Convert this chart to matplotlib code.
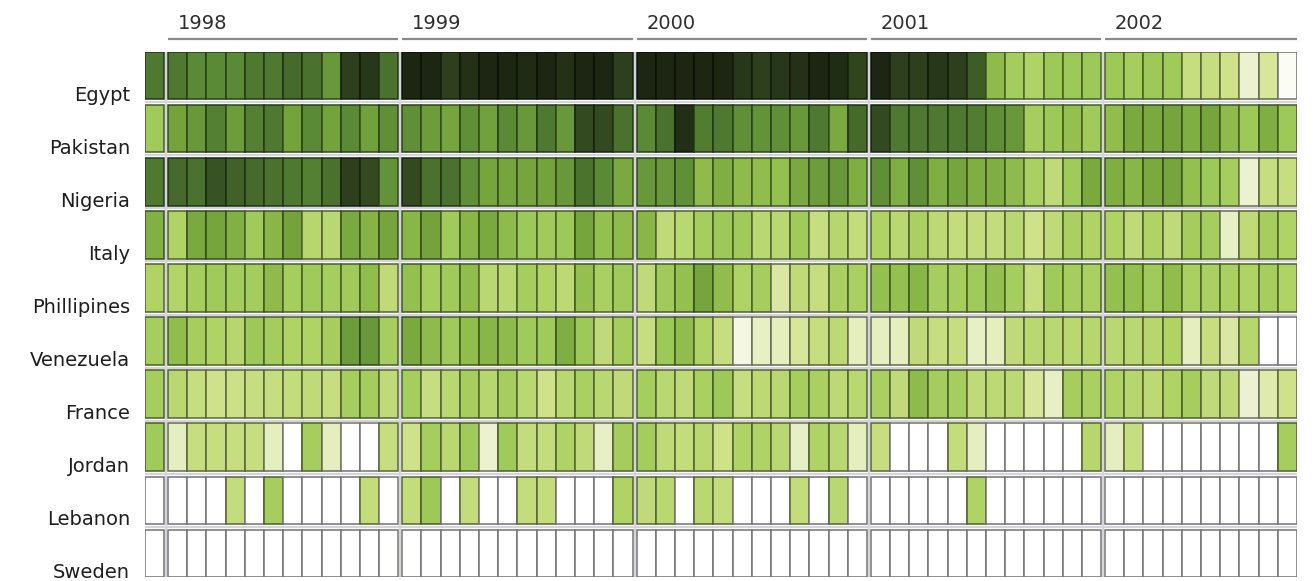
import matplotlib
matplotlib.use("Agg")
import matplotlib.pyplot as plt
import numpy as np
from matplotlib.colors import LinearSegmentedColormap, Normalize, to_rgb

countries = ["Egypt", "Pakistan", "Nigeria", "Italy", "Phillipines",
             "Venezuela", "France", "Jordan", "Lebanon", "Sweden"]
years = ["1998", "1999", "2000", "2001", "2002"]
months_per_year = [12, 12, 12, 12, 10]

# overall (first column) intensity per country, 0 = none ... 10 = highest
summary = [7, 4, 7, 5, 3.5, 3.8, 3.8, 4, 0, 0]

y1998 = [
    [7, 6.5, 6.5, 6.5, 7, 7, 7.5, 7.3, 6, 9, 9.3, 7.3],
    [5.5, 6, 6.8, 5.8, 6.8, 7, 5.5, 6.5, 5.5, 6.5, 5.6, 6.3],
    [7.5, 7.3, 8.3, 7.8, 7.5, 7.3, 7, 6.8, 7.3, 9, 8.6, 6.2],
    [3.5, 5.3, 5.4, 5, 4, 4.8, 5.5, 3.3, 3.2, 5.3, 4.9, 5.4],
    [3.4, 3.8, 4, 3.9, 3.9, 4.6, 3.8, 4, 3.8, 4, 4.5, 3],
    [4.5, 3.8, 3.5, 3.3, 4.1, 3.9, 3.5, 3.5, 3.8, 5.8, 6, 3.8],
    [3.2, 2.8, 2.5, 2.6, 2.8, 2.8, 2.9, 3, 2.8, 3.8, 3.9, 3],
    [1.4, 2.8, 2.8, 2.8, 2.8, 1.4, 0, 3.8, 1.4, 0, 0, 2.8],
    [0, 0, 0, 2.9, 0, 3.8, 0, 0, 0, 0, 2.9, 0],
    [0, 0, 0, 0, 0, 0, 0, 0, 0, 0, 0, 0],
]
y1999 = [
    [10, 10, 9, 9.5, 10, 10, 9.8, 10, 9.5, 10, 10, 9],
    [6.3, 5.8, 5.4, 6.3, 5.6, 6.5, 6, 7, 6, 8.6, 8.6, 7.3],
    [8.6, 7.3, 7.3, 6.3, 5.4, 5.4, 5.4, 5.5, 6, 7.2, 6.5, 5.3],
    [4.8, 5.5, 4, 4.8, 5.3, 4.6, 4.1, 4, 4.1, 5.4, 4.4, 4.6],
    [4.4, 3.8, 4, 4.5, 3.2, 3.2, 3.8, 3.5, 3.1, 4.4, 3.7, 4],
    [5.3, 4.6, 4, 4.5, 4.8, 4.6, 4, 4, 5.1, 4.1, 3, 3.8],
    [3.8, 2.8, 3.2, 3.8, 3.3, 3.8, 3.2, 2.5, 3.2, 3.7, 3.2, 3],
    [2.5, 3.8, 3.2, 4, 1.1, 4, 2.9, 2.9, 3.5, 3, 1.3, 3.9],
    [2.9, 4.1, 0, 2.9, 0, 0, 2.9, 2.9, 0, 0, 0, 3.5],
    [0, 0, 0, 0, 0, 0, 0, 0, 0, 0, 0, 0],
]
y2000 = [
    [10, 10, 10, 10, 10, 9.3, 9, 9.3, 9.5, 10, 9.7, 8.8],
    [6.5, 7.3, 9.6, 6.9, 7, 6.3, 6.2, 6.3, 6, 7, 5.3, 7.5],
    [6, 6, 6.3, 4.6, 5.1, 4.6, 4.5, 4.4, 5.3, 5.8, 6, 5.1],
    [4.8, 3, 3.2, 3.8, 4.1, 4, 3.2, 3.2, 4, 2.8, 3.3, 2.9],
    [3, 4, 4.4, 5.4, 4.5, 3.5, 3.8, 1.9, 3, 2.8, 3.7, 3.7],
    [2.8, 4.1, 4.5, 3.5, 2.8, 0.7, 1.3, 1.4, 2, 2.8, 3.1, 1.4],
    [3.8, 3.2, 3, 3.7, 4.1, 2.8, 3.1, 3.2, 3.8, 3.7, 3.1, 3.2],
    [3.9, 3, 2.9, 3.2, 2.5, 3.5, 3.5, 3.2, 1.3, 3.5, 3.2, 1.4],
    [3, 3.2, 0, 3.2, 2.9, 0, 0, 0, 2.9, 0, 3.2, 0],
    [0, 0, 0, 0, 0, 0, 0, 0, 0, 0, 0, 0],
]
y2001 = [
    [10, 9, 9, 9.3, 9, 8, 4.6, 3.9, 3.5, 4.1, 4.1, 4.1],
    [8.6, 7, 7, 7, 7, 6.9, 6.3, 6, 3.8, 4.1, 4.4, 4],
    [6.3, 5.1, 6.3, 5.1, 5.4, 5.1, 5.1, 4.6, 3.7, 3, 4, 5.3],
    [3.5, 3.2, 3.7, 3.1, 2.9, 2.9, 2.9, 3.2, 2.5, 3, 3.7, 3.5],
    [4.4, 4.4, 4.8, 3.8, 3.8, 4, 4.4, 3.8, 2.8, 4, 3.8, 3.7],
    [1.4, 1.4, 3, 2.8, 2.8, 1.3, 1.4, 3, 3.2, 3.2, 3.2, 3.3],
    [3.7, 3, 4.6, 3.9, 3.8, 3, 3.1, 3.1, 2, 1.3, 3.8, 3.7],
    [2.8, 0, 0, 0, 2.9, 1.4, 0, 0, 0, 0, 0, 3.3],
    [0, 0, 0, 0, 0, 3.5, 0, 0, 0, 0, 0, 0],
    [0, 0, 0, 0, 0, 0, 0, 0, 0, 0, 0, 0],
]
y2002 = [
    [4.1, 3.8, 4.1, 4, 2.8, 2.8, 2.5, 1.1, 2, 0.3],
    [4.5, 5.3, 5.3, 5.4, 5.1, 5.4, 4.6, 4.1, 5.1, 4.1],
    [5.1, 4.8, 5.3, 5.4, 4.4, 4.1, 3.8, 1.1, 2.8, 2.8],
    [3.5, 3, 3.5, 3, 3.9, 3.8, 1.3, 3, 3.8, 3.5],
    [4.4, 4.4, 4, 4.5, 3.7, 3.7, 3.7, 3.5, 3.8, 3.5],
    [3.2, 3.2, 3.3, 3.5, 1.4, 2.8, 1.9, 3.3, 0, 0],
    [3.5, 3.3, 3.1, 3.5, 3.8, 3, 3, 1.1, 1.7, 2.5],
    [1.4, 2.8, 0, 0, 0, 0, 0, 0, 0, 3.8],
    [0, 0, 0, 0, 0, 0, 0, 0, 0, 0],
    [0, 0, 0, 0, 0, 0, 0, 0, 0, 0],
]
year_values = [y1998, y1999, y2000, y2001, y2002]

# colour scale
anchors = [
    (0.0, "#ffffff"), (1.0, "#eff4d4"), (1.5, "#e2ecb8"), (2.0, "#d8e69c"),
    (2.5, "#cfe28a"), (3.0, "#c0da78"), (3.5, "#b0d366"), (4.0, "#a0cb5a"),
    (4.5, "#90bd4c"), (5.0, "#82b144"), (5.5, "#74a33c"), (6.0, "#68983a"),
    (6.5, "#5a8a35"), (7.0, "#4f7a30"), (7.5, "#466a2c"), (8.0, "#3e5c26"),
    (8.5, "#354d21"), (9.0, "#2d401c"), (9.5, "#243218"), (10.0, "#1c2612"),
]
cmap = LinearSegmentedColormap.from_list(
    "greens", [(v / 10.0, c) for v, c in anchors])
norm = Normalize(0, 10)

W, H, DPI = 1313, 581, 100
fig = plt.figure(figsize=(W / DPI, H / DPI), dpi=DPI)
fig.patch.set_facecolor("white")
ax_left, ax_right, ax_top, ax_bottom = 145, 1297, 52, 577
ax = fig.add_axes([ax_left / W, 1 - ax_bottom / H,
                   (ax_right - ax_left) / W, (ax_bottom - ax_top) / H])

gap_x = 0.2
gap_y = 0.12
pitch = 1 + gap_y

col_x = [0.0]
group_start = []
pos = 1 + gap_x
for n in months_per_year:
    group_start.append(pos)
    col_x += [pos + j for j in range(n)]
    pos += n + gap_x
total_w = pos - gap_x
total_h = len(countries) * pitch - gap_y

# light separators in the gaps
for r in range(len(countries) - 1):
    yy = r * pitch + 1 + gap_y / 2
    ax.plot([0, total_w], [yy, yy], color="#d4d4dc", lw=1.6, zorder=0,
            solid_capstyle="butt")
for gs in group_start:
    xx = gs - gap_x / 2
    ax.plot([xx, xx], [0, total_h], color="#d4d4dc", lw=1.6, zorder=0,
            solid_capstyle="butt")

for r, name in enumerate(countries):
    vals = [summary[r]]
    for yv in year_values:
        vals += list(yv[r])
    vals = np.array(vals, dtype=float)
    fills = cmap(norm(vals))
    edges = [tuple(np.array(to_rgb(f[:3])) * 0.45) for f in fills]
    ax.bar(col_x, 1, width=1, bottom=r * pitch, align="edge",
           color=fills, edgecolor=edges, linewidth=1.1, zorder=2)
    ax.annotate(name, xy=(0, r * pitch + 1), xycoords=ax.get_yaxis_transform(),
                xytext=(-15 * 0.72, -1.0), textcoords="offset points",
                ha="right", va="baseline", fontsize=14,
                family="DejaVu Sans", color="#1e1e1e")

px = 1.0 / (ax_bottom - ax_top)
for g, yr in enumerate(years):
    gs = group_start[g]
    ax.annotate(yr, xy=(gs, 1.0), xycoords=ax.get_xaxis_transform(),
                xytext=(10 * 0.72, 23 * 0.72), textcoords="offset points",
                ha="left", va="baseline", fontsize=14,
                family="DejaVu Sans", color="#2e2e2e")
    ax.plot([gs, gs + months_per_year[g]], [1 + 13 * px] * 2,
            transform=ax.get_xaxis_transform(), clip_on=False,
            color="#8a8a8a", lw=1.6, solid_capstyle="butt")

ax.set_xlim(0, total_w)
ax.set_ylim(total_h, 0)
ax.axis("off")

fig.savefig("out.png", dpi=DPI, facecolor="white")
